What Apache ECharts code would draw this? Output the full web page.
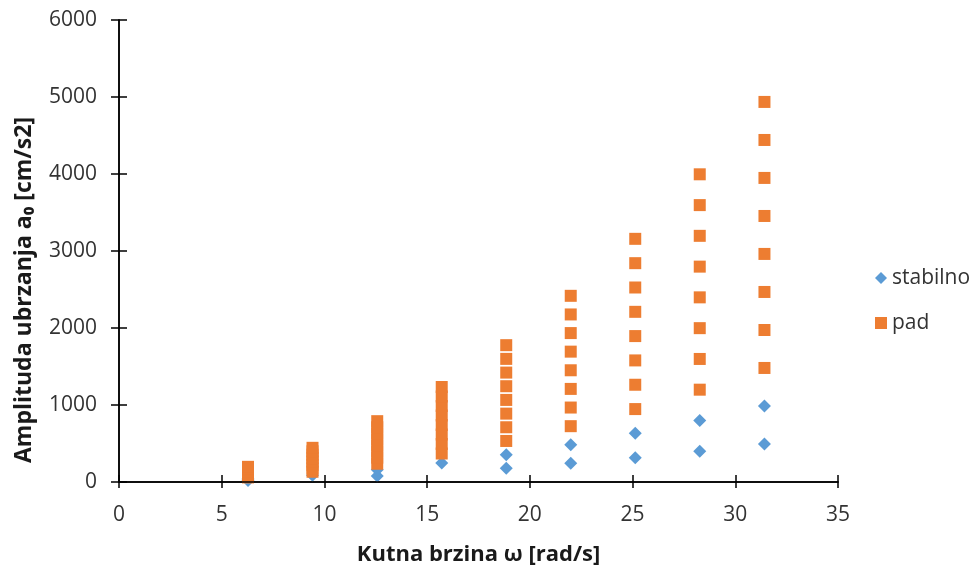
<!DOCTYPE html>
<html>
<head>
<meta charset="utf-8">
<script src="https://cdn.jsdelivr.net/npm/echarts@6/dist/echarts.min.js"></script>
<style>html,body{margin:0;padding:0;background:#fff}#c{width:972px;height:567px}</style>
</head>
<body>
<div id="c"></div>
<script>
// angular speeds (rad/s)
var omega = [6.28, 9.42, 12.57, 15.71, 18.85, 21.99, 25.13, 28.27, 31.42];
// "stabilno" amplitudes per omega column (cm/s2)
var stabilno = [
  [20, 39],
  [89],
  [79, 158],
  [247],
  [178, 355],
  [242, 484],
  [316, 632],
  [400, 800],
  [493, 987]
];
// "pad" amplitudes per omega column (cm/s2)
var pad = [
  [59, 79, 99, 118, 138, 158, 178, 197],
  [133, 177, 222, 266, 311, 355, 399, 444],
  [237, 316, 395, 474, 553, 632, 711, 790],
  [370, 494, 617, 740, 864, 987, 1111, 1234],
  [533, 711, 888, 1066, 1244, 1421, 1599, 1777],
  [725, 967, 1209, 1451, 1693, 1934, 2176, 2418],
  [947, 1263, 1579, 1895, 2210, 2526, 2842, 3158],
  [1199, 1598, 1998, 2398, 2797, 3197, 3596, 3996],
  [1481, 1974, 2468, 2962, 3455, 3949, 4442, 4936]
];
var seriesNames = ['stabilno', 'pad'];
var xTitle = 'Kutna brzina ω [rad/s]';
var yTitle = 'Amplituda ubrzanja a₀ [cm/s2]';

function pairs(cols) {
  var out = [];
  cols.forEach(function (vals, i) {
    vals.forEach(function (v) { out.push([omega[i], v]); });
  });
  return out;
}

var FONT = '"Open Sans", sans-serif';
var LABEL = '#333333';
function gridBox() {
  return {left: 119, right: 134, top: 20, bottom: 85, containLabel: false, outerBoundsMode: 'none'};
}
var tickStyle = {color: '#000', width: 1.5};
var chart = echarts.init(document.getElementById('c'), null, {renderer: 'canvas'});
chart.setOption({
  animation: false,
  backgroundColor: '#fff',
  grid: [gridBox(), gridBox()],
  legend: {
    orient: 'vertical', left: 870, top: 261, itemGap: 21,
    itemWidth: 12, itemHeight: 12,
    textStyle: {fontFamily: FONT, fontSize: 21, color: LABEL, lineHeight: 24},
    data: [{name: seriesNames[0], icon: 'diamond'}, {name: seriesNames[1], icon: 'rect'}]
  },
  tooltip: {show: false},
  xAxis: [{
    gridIndex: 0, type: 'value', min: 0, max: 35, interval: 5, position: 'bottom',
    axisLine: {show: true, onZero: false, lineStyle: {color: '#000', width: 1.5}},
    splitLine: {show: false},
    axisTick: {show: true, length: 6, lineStyle: tickStyle},
    axisLabel: {fontFamily: FONT, fontSize: 21, color: LABEL, margin: 23},
    name: xTitle, nameLocation: 'middle', nameGap: 62,
    nameTextStyle: {fontFamily: FONT, fontSize: 22, fontWeight: 'bold', color: '#1a1a1a'}
  }, {
    gridIndex: 1, type: 'value', min: 0, max: 35, interval: 5, position: 'bottom', z: 10,
    axisLine: {show: true, onZero: false, lineStyle: {color: '#000', width: 1.5}},
    splitLine: {show: false},
    axisLabel: {show: true, color: 'rgba(0,0,0,0)', fontSize: 1},
    axisTick: {show: true, inside: true, length: 7, lineStyle: tickStyle}
  }],
  yAxis: [{
    gridIndex: 0, type: 'value', min: 0, max: 6000, interval: 1000, position: 'left',
    axisLine: {show: true, onZero: false, lineStyle: {color: '#000', width: 1.5}},
    splitLine: {show: false},
    axisTick: {show: true, length: 8, lineStyle: tickStyle},
    axisLabel: {fontFamily: FONT, fontSize: 21, color: LABEL, margin: 22,
      formatter: function (v) { return String(v); }}
  }, {
    gridIndex: 1, type: 'value', min: 0, max: 6000, interval: 1000, position: 'left', z: 10,
    axisLine: {show: true, onZero: false, lineStyle: {color: '#000', width: 1.5}},
    splitLine: {show: false},
    axisLabel: {show: true, color: 'rgba(0,0,0,0)', fontSize: 1},
    axisTick: {show: true, inside: true, length: 8, lineStyle: tickStyle}
  }],
  graphic: [{
    type: 'text', x: 24, y: 290, rotation: Math.PI / 2,
    style: {
      text: yTitle, font: 'bold 23px ' + FONT, fill: '#1a1a1a',
      textAlign: 'center', textVerticalAlign: 'middle'
    }
  }],
  series: [{
    name: seriesNames[0], type: 'scatter', symbol: 'diamond', symbolSize: 13,
    xAxisIndex: 0, yAxisIndex: 0,
    itemStyle: {color: '#5B9BD5', opacity: 1}, data: pairs(stabilno)
  }, {
    name: seriesNames[1], type: 'scatter', symbol: 'rect', symbolSize: 12,
    xAxisIndex: 0, yAxisIndex: 0,
    itemStyle: {color: '#ED7D31', opacity: 1}, data: pairs(pad)
  }, {
    // invisible helper so the inner-tick axes of the overlay grid are not blank
    name: 'ticks', type: 'scatter', symbolSize: 0, silent: true,
    xAxisIndex: 1, yAxisIndex: 1,
    itemStyle: {opacity: 0}, data: pairs(pad)
  }]
});
</script>
</body>
</html>
